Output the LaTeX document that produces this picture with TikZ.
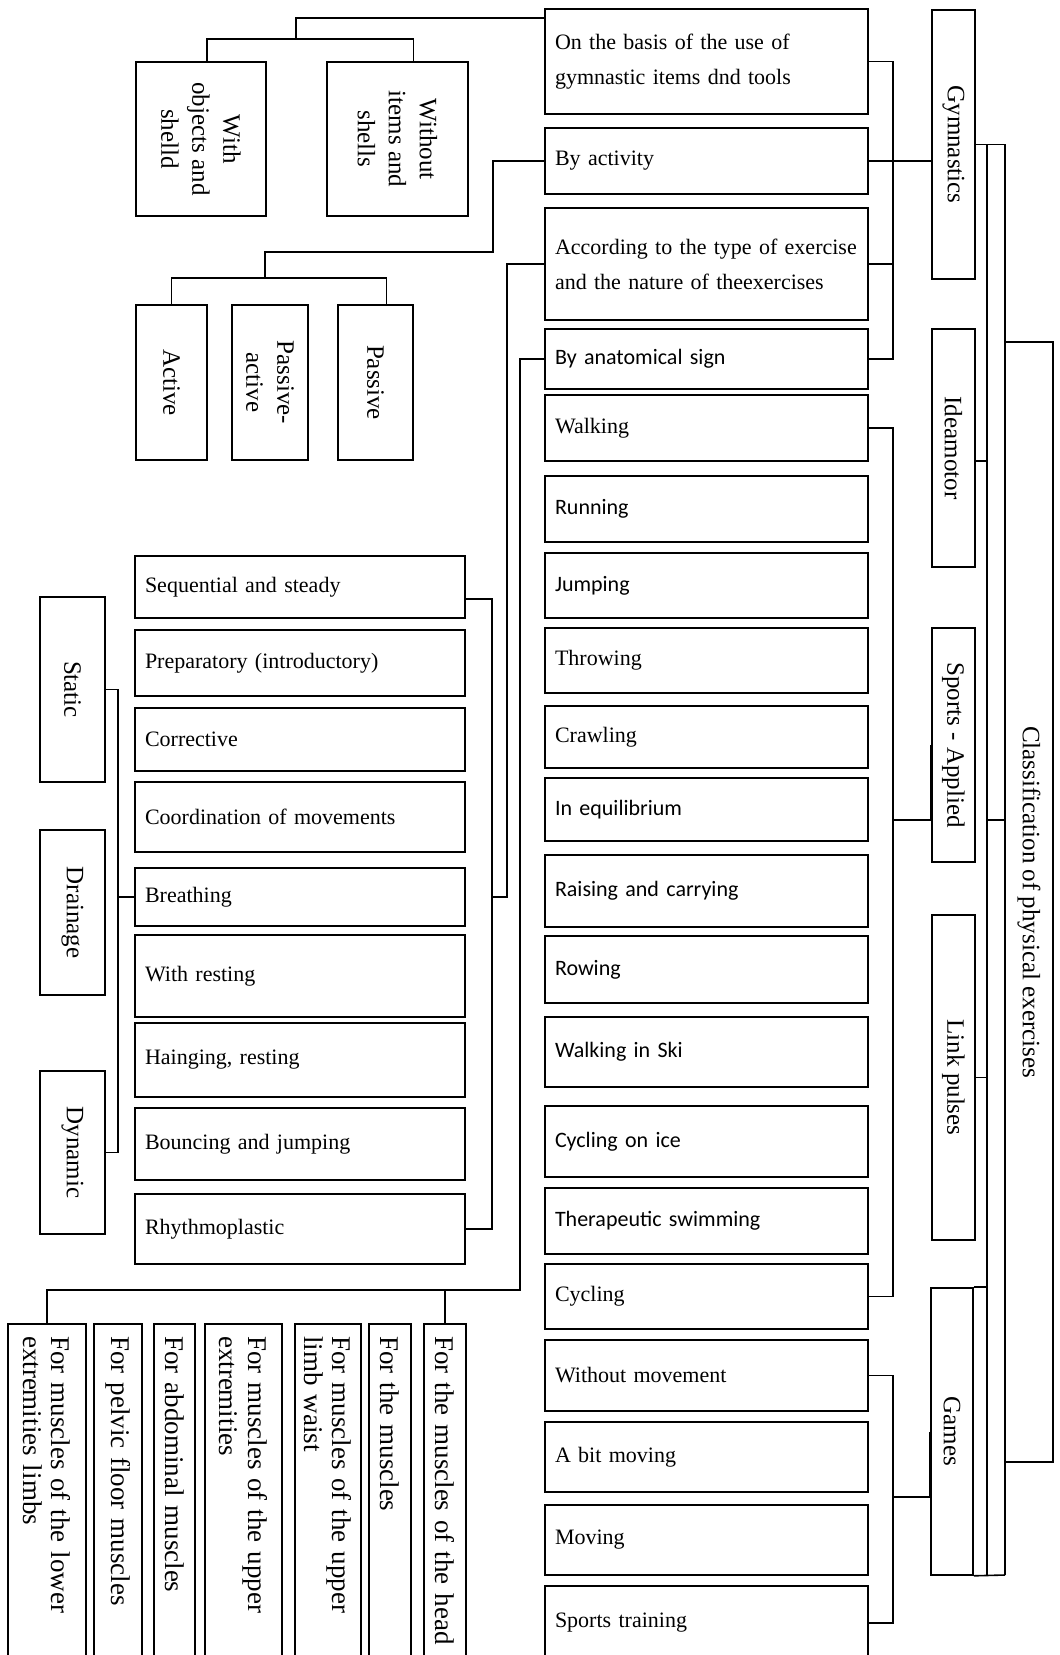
\documentclass[tikz,border=0pt]{standalone}
\usepackage{fontspec}
\setmainfont{Liberation Serif}
\newfontfamily\calibri{Carlito}
\usetikzlibrary{positioning, calc}

\begin{document}
\begin{tikzpicture}[x=0.5pt, y=-0.5pt, line width=0.8pt,
    item/.style={draw, text width=151.5pt, inner xsep=5pt, inner ysep=0pt, align=left, font=\fontsize{11}{17.5}\selectfont},
    itemsf/.style={item, font=\fontsize{11}{17.5}\selectfont\calibri},
    leftitem/.style={item, text width=155pt},
    upbox/.style={draw, rotate=-90, align=center, inner sep=2pt, font=\fontsize{12.5}{15.5}\selectfont},
    musclebox/.style={draw, rotate=-90, align=left, text width=156pt, inner xsep=6pt, inner ysep=0pt, font=\fontsize{13.5}{14.3}\selectfont}]
      \useasboundingbox (0,0) rectangle (1060,1655);

      \node[item, minimum height=52.5pt] (basis) at (706.5,61.5) {On the basis of the use of\\gymnastic items dnd tools};
      \node[item, minimum height=33pt] (activity) at (706.5,161) {By activity};
      \node[item, minimum height=56pt] (accord) at (706.5,264) {According to the type of exercise\\and the nature of theexercises};
      \node[itemsf, minimum height=30pt] (anat) at (706.5,359) {By anatomical sign};
      \node[item, minimum height=33pt] (walking) at (706.5,428) {Walking};
      \node[itemsf, minimum height=33pt] (running) at (706.5,509) {Running};
      \node[itemsf, minimum height=32.5pt] (jumping) at (706.5,585.5) {Jumping};
      \node[item, minimum height=32.5pt] (throwing) at (706.5,660.5) {Throwing};
      \node[item, minimum height=31pt] (crawling) at (706.5,737) {Crawling};
      \node[itemsf, minimum height=31.5pt] (equil) at (706.5,809.5) {In equilibrium};
      \node[itemsf, minimum height=36pt] (raising) at (706.5,891) {Raising and carrying};
      \node[itemsf, minimum height=33.5pt] (rowing) at (706.5,969.5) {Rowing};
      \node[itemsf, minimum height=35pt] (ski) at (706.5,1052) {Walking in Ski};
      \node[itemsf, minimum height=35.5pt] (icecyc) at (706.5,1141.5) {Cycling on ice};
      \node[itemsf, minimum height=33pt] (swim) at (706.5,1221) {Therapeutic swimming};
      \node[item, minimum height=32.5pt] (cycling) at (706.5,1296.5) {Cycling};
      \node[item, minimum height=35.5pt] (nomove) at (706.5,1375.5) {Without movement};
      \node[item, minimum height=35pt] (bitmove) at (706.5,1457) {A bit moving};
      \node[item, minimum height=35pt] (moving) at (706.5,1540) {Moving};
      \node[item, minimum height=37pt] (sport) at (706.5,1623) {Sports training};

      \node[upbox, minimum width=134.5pt, minimum height=21.5pt] (gym) at (953.5,144.5) {Gymnastics};
      \node[upbox, minimum width=119pt, minimum height=21.5pt] (ideo) at (953.5,448) {Ideamotor};
      \node[upbox, minimum width=117pt, minimum height=21.5pt] (sports) at (953.5,745) {Sports - Applied};
      \node[upbox, minimum width=162.5pt, minimum height=21.5pt] (link) at (953.5,1077.5) {Link pulses};
      \node[upbox, minimum width=143.5pt, minimum height=21pt] (games) at (952,1431.5) {Games};
      \node[upbox, minimum width=560pt, minimum height=24pt] (classif) at (1029,902) {Classification of physical exercises};

      \node[upbox, minimum width=77pt, minimum height=65pt] (withobj) at (201,139) {With\\objects and\\shelld};
      \node[upbox, minimum width=77pt, minimum height=70.5pt] (noitems) at (397.5,139) {Without\\items and\\shells};
      \node[upbox, minimum width=77.5pt, minimum height=35.5pt] (active) at (171.5,382.5) {Active};
      \node[upbox, minimum width=77.5pt, minimum height=38pt] (pasact) at (270,382.5) {Passive-\\active};
      \node[upbox, minimum width=77.5pt, minimum height=37.5pt] (passive) at (375.5,382.5) {Passive};

      \node[leftitem, minimum height=31pt] (seq) at (300,587) {Sequential and steady};
      \node[leftitem, minimum height=33pt] (prep) at (300,663) {Preparatory (introductory)};
      \node[leftitem, minimum height=31.5pt] (corr) at (300,739.5) {Corrective};
      \node[leftitem, minimum height=35pt] (coord) at (300,817) {Coordination of movements};
      \node[leftitem, minimum height=29pt] (breath) at (300,897) {Breathing};
      \node[leftitem, minimum height=41pt] (rest) at (300,976) {With resting};
      \node[leftitem, minimum height=37pt] (hang) at (300,1060) {Hainging, resting};
      \node[leftitem, minimum height=36pt] (bounce) at (300,1144) {Bouncing and jumping};
      \node[leftitem, minimum height=35pt] (rhythm) at (300,1229) {Rhythmoplastic};

      \node[upbox, minimum width=92.5pt, minimum height=32.5pt] (static) at (72.5,689.5) {Static};
      \node[upbox, minimum width=82.5pt, minimum height=32.5pt] (drain) at (72.5,912.5) {Drainage};
      \node[upbox, minimum width=81.5pt, minimum height=32.5pt] (dynamic) at (72.5,1152.5) {Dynamic};

      \node[musclebox, minimum height=39pt] (lower) at (47,1492) {For muscles of the lower\\extremities limbs};
      \node[musclebox, minimum height=24pt] (pelvic) at (118,1492) {For pelvic floor muscles};
      \node[musclebox, minimum height=20.5pt] (abdom) at (174.5,1492) {For abdominal muscles};
      \node[musclebox, minimum height=38.5pt] (upext) at (243.5,1492) {For muscles of the upper\\extremities};
      \node[musclebox, minimum height=33pt] (waist) at (328,1492) {For muscles of the upper\\limb waist};
      \node[musclebox, minimum height=21pt] (muscl) at (390,1492) {For the muscles};
      \node[musclebox, minimum height=21pt] (head) at (445,1492) {For the muscles of the head};

      \coordinate (jTop) at (296,39);
      \coordinate (jAct) at (493,252);
      \coordinate (jAct2) at (265,278);
      \coordinate (jGym) at (893,161);
      \coordinate (jSpo) at (893,820);
      \coordinate (jGam) at (893,1497);
      \coordinate (jAcc) at (507,897);
      \coordinate (jSeq) at (492,897);
      \coordinate (jBr) at (118,897);
      \coordinate (jAnat) at (520,1290);
      \coordinate (rTop) at (987,145);
      \coordinate (rA) at (987,1575);
      \coordinate (rB) at (1005,1575);

      \draw (node cs:name=basis, anchor=165) -| (jTop);
      \draw ([xshift=3pt]withobj.west) |- (jTop) -| ([xshift=8pt]noitems.west);
      \draw (node cs:name=activity, anchor=west) -| (jAct) -| (jAct2);
      \draw (node cs:name=active, anchor=west) |- (jAct2) -| ([xshift=5.5pt]passive.west);

      \draw (node cs:name=basis, anchor=east) -| (jGym) |- (node cs:name=anat, anchor=east);
      \draw (node cs:name=accord, anchor=east) -| (jGym);
      \draw (node cs:name=activity, anchor=east) -- (activity.east -| gym.south);
      \draw (node cs:name=walking, anchor=east) -| (jSpo) |- (node cs:name=cycling, anchor=east);
      \draw (jSpo) -| (node cs:name=sports, anchor=south);
      \draw (node cs:name=nomove, anchor=east) -| (jGam) |- (node cs:name=sport, anchor=east);
      \draw (jGam) -| (node cs:name=games, anchor=south);

      \draw (node cs:name=gym, anchor=north) -| (rB);
      \draw (rTop) -- (rA);
      \draw ([yshift=-6.5pt]ideo.north) -| (rTop);
      \draw (node cs:name=link, anchor=north) -| (rTop);
      \draw (jSpo -| rA) -- (jSpo -| rB);
      \draw (node cs:name=games, anchor=north west) -| (rTop);
      \draw (node cs:name=games, anchor=north east) -- (rB);

      \draw ([yshift=-6pt]seq.east) -| (jSeq) |- (node cs:name=rhythm, anchor=east);
      \draw (node cs:name=accord, anchor=west) -| (jAcc) -- (jSeq);
      \draw (node cs:name=breath, anchor=west) -- (jBr);
      \draw (node cs:name=static, anchor=north) -| (jBr) |- (node cs:name=dynamic, anchor=north);

      \draw (node cs:name=anat, anchor=west) -| (jAnat) -| (node cs:name=lower, anchor=west);
      \draw (node cs:name=head, anchor=west) -- (head.west |- jAnat);
    \end{tikzpicture}
\end{document}
